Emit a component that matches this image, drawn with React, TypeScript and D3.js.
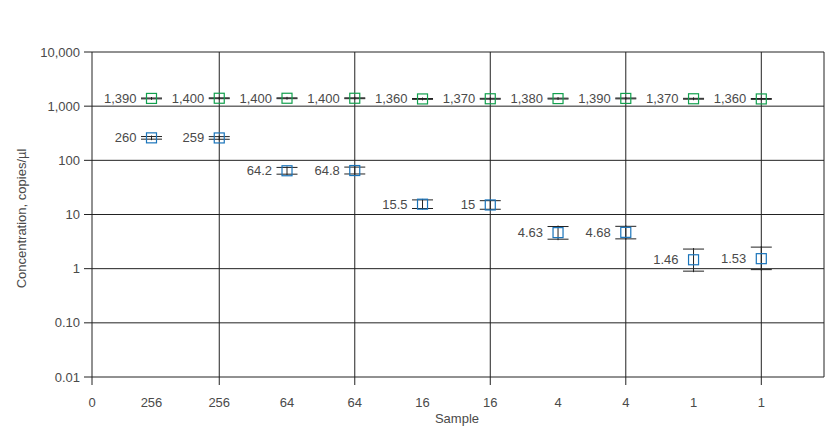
import React from "react";
import * as d3 from "d3";

const xTickLabels = ["0", "256", "256", "64", "64", "16", "16", "4", "4", "1", "1"];
const sampleIndex = [1, 2, 3, 4, 5, 6, 7, 8, 9, 10];

const greenValues = [1390, 1400, 1400, 1400, 1360, 1370, 1380, 1390, 1370, 1360];
const greenLabels = ["1,390", "1,400", "1,400", "1,400", "1,360", "1,370", "1,380", "1,390", "1,370", "1,360"];
const greenLow = [1365, 1375, 1375, 1375, 1335, 1345, 1355, 1365, 1345, 1335];
const greenHigh = [1415, 1425, 1425, 1425, 1385, 1395, 1405, 1415, 1395, 1385];

const blueValues = [260, 259, 64.2, 64.8, 15.5, 15, 4.63, 4.68, 1.46, 1.53];
const blueLabels = ["260", "259", "64.2", "64.8", "15.5", "15", "4.63", "4.68", "1.46", "1.53"];
const blueLow = [246, 245, 55.5, 56, 12.9, 12.5, 3.5, 3.55, 0.9, 0.96];
const blueHigh = [275, 274, 74, 75, 18.6, 18, 6.0, 6.05, 2.3, 2.5];

const yTicks = [10000, 1000, 100, 10, 1, 0.1, 0.01];
const yTickLabels = ["10,000", "1,000", "100", "10", "1", "0.10", "0.01"];
const gridIndex = [2, 4, 6, 8, 10];

const W = 840;
const H = 431;
const left = 92;
const right = 824;
const top = 52;
const bottom = 377;
const GREEN = "#12a04e";
const BLUE = "#1a74ba";
const INK = "#222";
const TEXT = "#4a4a4a";
const FONT = "'Liberation Sans', Arial, sans-serif";

export default function App() {
  const x = d3.scaleLinear().domain([1, 10]).range([151.5, 761.3]);
  const y = d3.scaleLog().domain([0.01, 10000]).range([bottom, top]);
  const cap = 10.5;
  const box = 10;

  const series = [
    { color: GREEN, values: greenValues, labels: greenLabels, lo: greenLow, hi: greenHigh },
    { color: BLUE, values: blueValues, labels: blueLabels, lo: blueLow, hi: blueHigh },
  ];

  return (
    <svg width={W} height={H} style={{ position: "absolute", left: 0, top: 0 }} fontFamily={FONT}>
      <rect width={W} height={H} fill="#fff" />
      {yTicks.map((t, i) => (
        <g key={"y" + i}>
          <line x1={left - 8} x2={right} y1={y(t)} y2={y(t)} stroke={INK} strokeWidth={1} />
          <text x={80} y={y(t) + 4.5} textAnchor="end" fontSize={13} fill={TEXT}>
            {yTickLabels[i]}
          </text>
        </g>
      ))}
      <line x1={left} x2={left} y1={top} y2={bottom + 8} stroke={INK} strokeWidth={1} />
      {gridIndex.map((g) => (
        <line key={"g" + g} x1={x(g)} x2={x(g)} y1={top} y2={bottom + 8} stroke={INK} strokeWidth={1} />
      ))}
      <line x1={right} x2={right} y1={top} y2={bottom} stroke={INK} strokeWidth={1} />
      <text x={left} y={407} textAnchor="middle" fontSize={13} fill={TEXT}>
        {xTickLabels[0]}
      </text>
      {sampleIndex.map((s) => (
        <text key={"xl" + s} x={x(s)} y={407} textAnchor="middle" fontSize={13} fill={TEXT}>
          {xTickLabels[s]}
        </text>
      ))}
      <text x={457} y={423} textAnchor="middle" fontSize={13} fill={TEXT}>
        Sample
      </text>
      <text
        transform={`translate(26, ${(top + bottom) / 2 + 4}) rotate(-90)`}
        textAnchor="middle"
        fontSize={13}
        fill={TEXT}
      >
        Concentration, copies/µl
      </text>
      {series.map((sr, k) =>
        sampleIndex.map((s, i) => {
          const cx = x(s);
          const cy = y(sr.values[i]);
          const yl = y(sr.lo[i]);
          const yh = y(sr.hi[i]);
          return (
            <g key={`s${k}-${i}`}>
              <line x1={cx} x2={cx} y1={yh - 1} y2={yl + 1} stroke={INK} strokeWidth={1} />
              <line x1={cx - cap} x2={cx + cap} y1={yh} y2={yh} stroke={INK} strokeWidth={1} />
              <line x1={cx - cap} x2={cx + cap} y1={yl} y2={yl} stroke={INK} strokeWidth={1} />
              <rect
                x={cx - box / 2}
                y={cy - box / 2}
                width={box}
                height={box}
                fill="none"
                stroke={sr.color}
                strokeWidth={1.2}
              />
              <text x={cx - 15} y={cy + 4.5} textAnchor="end" fontSize={13} fill={TEXT}>
                {sr.labels[i]}
              </text>
            </g>
          );
        })
      )}
    </svg>
  );
}
